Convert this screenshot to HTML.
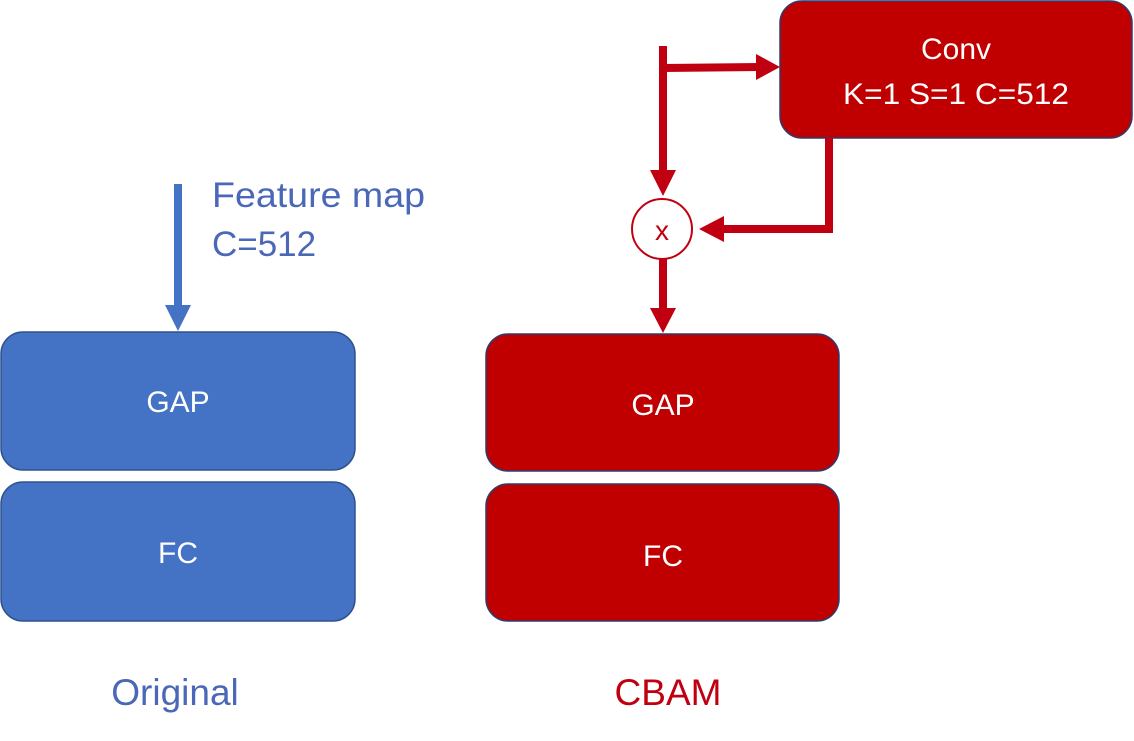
<!DOCTYPE html>
<html><head><meta charset="utf-8"><style>
html,body{margin:0;padding:0;background:#fff;}
svg{display:block;}
text{font-family:"Liberation Sans",sans-serif;}
</style></head><body>
<svg width="1134" height="741" viewBox="0 0 1134 741" xmlns="http://www.w3.org/2000/svg">
<!-- blue side -->
<line x1="178" y1="184" x2="178" y2="307" stroke="#4472c4" stroke-width="8"/>
<polygon points="165,305 191,305 178,331" fill="#4472c4"/>
<text x="212" y="207" font-size="35" fill="#4a67b8" textLength="213" lengthAdjust="spacingAndGlyphs">Feature map</text>
<text x="212" y="256" font-size="35" fill="#4a67b8">C=512</text>
<rect x="1" y="332" width="354" height="138" rx="22" fill="#4472c4" stroke="#2f528f" stroke-width="1.5"/>
<text x="178" y="412" font-size="30" fill="#fff" text-anchor="middle">GAP</text>
<rect x="1" y="482" width="354" height="139" rx="22" fill="#4472c4" stroke="#2f528f" stroke-width="1.5"/>
<text x="178" y="563" font-size="30" fill="#fff" text-anchor="middle">FC</text>
<text x="175" y="705" font-size="37" fill="#4a67b8" text-anchor="middle">Original</text>

<!-- red side -->
<rect x="780" y="1" width="352" height="137" rx="22" fill="#c00000" stroke="#2f3a6f" stroke-width="1.5"/>
<text x="956" y="59" font-size="30" fill="#fff" text-anchor="middle">Conv</text>
<text x="956" y="104" font-size="30" fill="#fff" text-anchor="middle" textLength="226" lengthAdjust="spacingAndGlyphs">K=1 S=1 C=512</text>
<line x1="663" y1="46" x2="663" y2="172" stroke="#c00010" stroke-width="8"/>
<polygon points="650,170 676,170 663,196" fill="#c00010"/>
<line x1="663" y1="68" x2="760" y2="67" stroke="#c00010" stroke-width="8"/>
<polygon points="756,54 756,80 780,67" fill="#c00010"/>
<polyline points="829,138 829,229 722,229" fill="none" stroke="#c00010" stroke-width="8"/>
<polygon points="724,216 724,242 699,229" fill="#c00010"/>
<circle cx="662" cy="229" r="30" fill="#fff" stroke="#c00010" stroke-width="2"/>
<text x="662" y="240" font-size="28" fill="#c00010" text-anchor="middle">x</text>
<line x1="663" y1="259" x2="663" y2="312" stroke="#c00010" stroke-width="8"/>
<polygon points="650,308 676,308 663,333" fill="#c00010"/>
<rect x="486" y="334" width="353" height="137" rx="22" fill="#c00000" stroke="#2f3a6f" stroke-width="1.5"/>
<text x="663" y="415" font-size="30" fill="#fff" text-anchor="middle">GAP</text>
<rect x="486" y="484" width="353" height="137" rx="22" fill="#c00000" stroke="#2f3a6f" stroke-width="1.5"/>
<text x="663" y="566" font-size="30" fill="#fff" text-anchor="middle">FC</text>
<text x="668" y="705" font-size="37" fill="#c00010" text-anchor="middle">CBAM</text>
</svg>
</body></html>
